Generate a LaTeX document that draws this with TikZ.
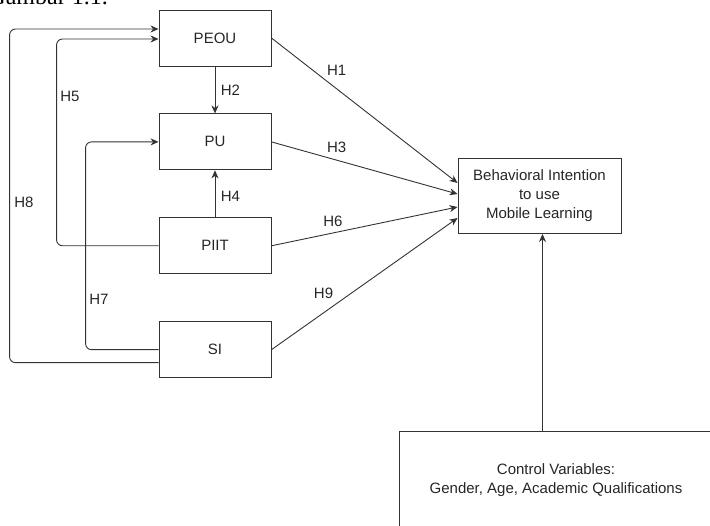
\documentclass[tikz,border=0pt]{standalone}
\usepackage{fontspec}
\setmainfont{Liberation Sans}
\newfontfamily\captionfont{Liberation Serif}
\usetikzlibrary{arrows.meta, positioning, calc}

\begin{document}
\begin{tikzpicture}[x=1pt,y=-1pt,>={Stealth[length=8pt,width=7pt,inset=2.5pt]},line width=0.9pt,draw=black!80,
        var node/.style={rectangle,draw=black!80,minimum width=112pt,minimum height=56pt,
          font=\fontsize{15}{19}\selectfont,text=black!85},
        hyp/.style={font=\fontsize{15}{19}\selectfont,text=black!85}]
    \useasboundingbox (0,0) rectangle (710,526);
    \node[anchor=base west, inner sep=0pt, font=\captionfont\fontsize{24}{28}\selectfont] (caption) at (-12,4.5) {Gambar 1.1.};
    \node[var node] (peou) at (215,38) {PEOU};
    \node[var node] (pu) [below=47pt of peou] {PU};
    \node[var node] (piit) [below=47pt of pu] {PIIT};
    \node[var node] (si) [below=47pt of piit] {SI};
    \node[var node, minimum width=163pt, minimum height=75pt, align=center] (bi) at (539.5,196)
      {Behavioral Intention\\to use\\Mobile Learning};
    \node[var node, minimum width=314pt, minimum height=98pt, align=center] (ctrl) at (556,480)
      {Control Variables:\\Gender, Age, Academic Qualifications};
    % direct paths into intention
    \path[->, every node/.style={hyp}]
      (peou.east) edge node [pos=0.35, above=9pt] {H1} ([yshift=13pt]bi.west)
      (pu.east) edge node [pos=0.35, above=4pt] {H3} ([yshift=2pt]bi.west)
      (piit.east) edge node [pos=0.33, above=3pt] {H6} ([yshift=-11pt]bi.west)
      (si.east) edge node [pos=0.28, above=10pt] {H9} ([yshift=-22pt]bi.west)
      (peou) edge node [right=2pt] {H2} (pu)
      (piit) edge node [right=2pt, pos=0.45] {H4} (pu);
    % loops round the left side
    \draw[->, rounded corners=6pt] (piit.west) -- ++(-102,0)
      |- node [hyp, right, pos=0.36] {H5} ([yshift=-1pt]peou.west);
    \draw[->, rounded corners=6pt] ([yshift=-13pt]si.west) -- ++(-149,0)
      |- node [hyp, right=1pt, pos=0.24] {H8} ([yshift=9pt]peou.west);
    \draw[->, rounded corners=6pt] (si.west) -- ++(-73,0)
      |- node [hyp, right, pos=0.12] {H7} (pu.west);
    \coordinate (cv) at ([xshift=3pt]bi.south);
    \draw[->] (cv |- ctrl.north) -- (cv);
\end{tikzpicture}
\end{document}
